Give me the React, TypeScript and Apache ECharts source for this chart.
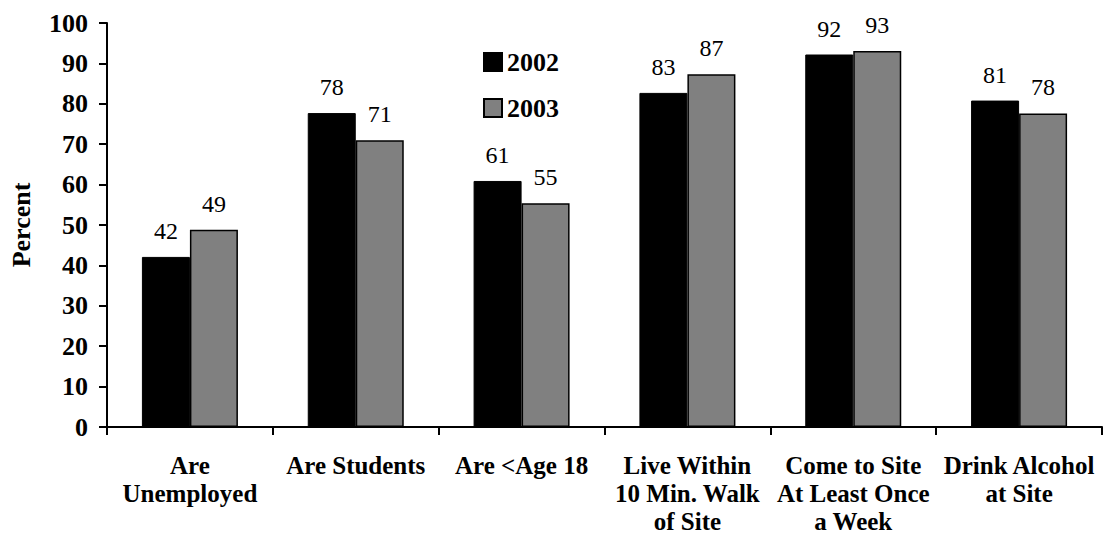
import React, { useEffect, useRef } from "react";
import * as echarts from "echarts";

const categories = [
  "Are\nUnemployed",
  "Are Students",
  "Are <Age 18",
  "Live Within\n10 Min. Walk\nof Site",
  "Come to Site\nAt Least Once\na Week",
  "Drink Alcohol\nat Site",
];
const values2002 = [42.1, 77.7, 60.9, 82.7, 92.2, 80.8];
const values2003 = [48.8, 71.0, 55.4, 87.3, 93.1, 77.6];
const seriesNames = ["2002", "2003"];

const FONT = "Liberation Serif";

export default function App() {
  const ref = useRef<HTMLDivElement>(null);
  useEffect(() => {
    if (!ref.current) return;
    const chart = echarts.init(ref.current, null, { renderer: "svg" });
    const labelCfg = {
      show: true,
      position: "top" as const,
      distance: 14,
      color: "#000",
      fontFamily: FONT,
      fontSize: 24,
      formatter: (p: any) => String(Math.round(p.value)),
    };
    chart.setOption({
      animation: false,
      textStyle: { fontFamily: FONT },
      grid: { left: 106, right: 1, top: 23, bottom: 117, containLabel: false },
      legend: {
        orient: "vertical",
        left: 478,
        top: 44,
        icon: "rect",
        itemWidth: 18,
        itemHeight: 18,
        itemGap: 20,
        textStyle: { fontFamily: FONT, fontSize: 26, fontWeight: "bold", color: "#000" },
        data: seriesNames,
      },
      xAxis: {
        type: "category",
        data: categories,
        axisLine: { lineStyle: { color: "#000", width: 2 } },
        axisTick: { show: true, length: 8, lineStyle: { color: "#000", width: 2 } },
        axisLabel: {
          interval: 0,
          color: "#000",
          fontFamily: FONT,
          fontSize: 25,
          fontWeight: "bold",
          lineHeight: 28,
          margin: 24,
        },
      },
      yAxis: {
        type: "value",
        min: 0,
        max: 100,
        interval: 10,
        name: "Percent",
        nameLocation: "middle",
        nameRotate: 90,
        nameGap: 73,
        nameTextStyle: { fontFamily: FONT, fontSize: 26, fontWeight: "bold", color: "#000" },
        splitLine: { show: false },
        axisLine: { show: true, lineStyle: { color: "#000", width: 2 } },
        axisTick: { show: true, length: 8, lineStyle: { color: "#000", width: 2 } },
        axisLabel: {
          color: "#000",
          fontFamily: FONT,
          fontSize: 26,
          fontWeight: "bold",
          margin: 19,
        },
      },
      series: [
        {
          name: seriesNames[0],
          type: "bar",
          data: values2002,
          barWidth: 48,
          barGap: "0%",
          itemStyle: { color: "#000", borderColor: "#000", borderWidth: 1 },
          label: labelCfg,
        },
        {
          name: seriesNames[1],
          type: "bar",
          data: values2003,
          barWidth: 48,
          barGap: "0%",
          itemStyle: { color: "#808080", borderColor: "#000", borderWidth: 1.5 },
          label: labelCfg,
        },
      ],
    });
    return () => chart.dispose();
  }, []);
  return (
    <div
      ref={ref}
      style={{ position: "fixed", left: 0, top: 0, width: 1103, height: 544, background: "#fff" }}
    />
  );
}
